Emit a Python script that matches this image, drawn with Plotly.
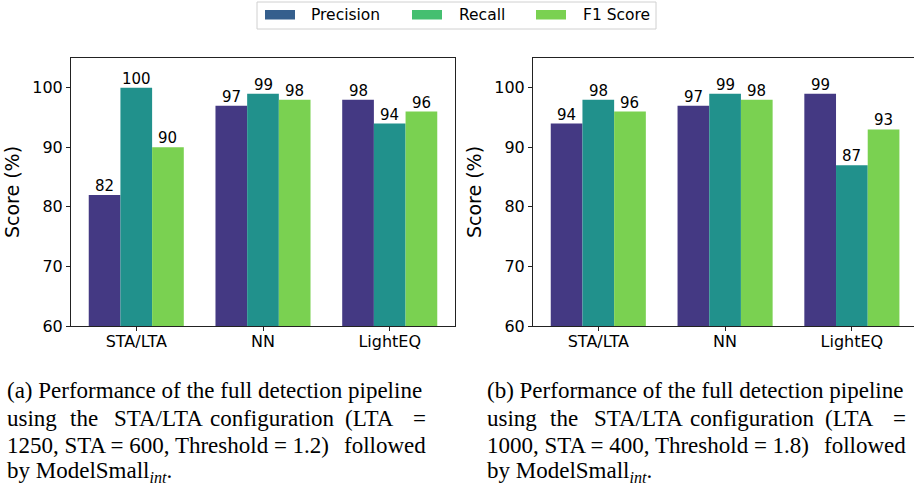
import plotly.graph_objects as go

categories = ["STA/LTA", "NN", "LightEQ"]
series_names = ["Precision", "Recall", "F1 Score"]
panel_a = {"Precision": [82, 97, 98], "Recall": [100, 99, 94], "F1 Score": [90, 98, 96]}
panel_b = {"Precision": [94, 97, 99], "Recall": [98, 99, 87], "F1 Score": [96, 98, 93]}
y_ticks = [60, 70, 80, 90, 100]

bar_colors = {"Precision": "#443983", "Recall": "#21918c", "F1 Score": "#7ad151"}
legend_colors = {"Precision": "#355f8d", "Recall": "#44bf70", "F1 Score": "#7ad151"}

W, H = 914, 494
FONT = "DejaVu Sans"
SERIF = "Liberation Serif"
BAR_W = 0.25
offsets = {"Precision": -BAR_W, "Recall": 0.0, "F1 Score": BAR_W}

fig = go.Figure()
annotations = []
for panel, (xa, ya) in [(panel_a, ("x", "y")), (panel_b, ("x2", "y2"))]:
    for name in series_names:
        xs = [i + offsets[name] for i in range(len(categories))]
        fig.add_trace(go.Bar(
            x=xs, y=panel[name], name=name, xaxis=xa, yaxis=ya, width=BAR_W,
            marker=dict(color=bar_colors[name], line=dict(width=0)),
            showlegend=False,
        ))
        for xv, v in zip(xs, panel[name]):
            annotations.append(dict(text=str(v), x=xv, y=v, xref=xa, yref=ya,
                                    xanchor="center", yanchor="bottom", yshift=-2,
                                    showarrow=False,
                                    font=dict(family=FONT, size=15, color="black")))

def px_x(p):
    return p / W

def px_y(p):
    return 1 - p / H

axis_common = dict(showline=True, linecolor="#222", linewidth=1, ticks="outside",
                   ticklen=4, tickcolor="#222", showgrid=False, zeroline=False,
                   automargin=False,
                   tickfont=dict(family=FONT, size=16, color="black"))
ydom = [px_y(326), px_y(58)]
ytitle = dict(text="Score (%)", font=dict(family=FONT, size=19, color="black"), standoff=7)
fig.update_layout(
    width=W, height=H, margin=dict(l=0, r=0, t=0, b=0, autoexpand=False),
    paper_bgcolor="white", plot_bgcolor="white",
    barmode="overlay",
    showlegend=False,
    xaxis=dict(domain=[px_x(71), px_x(455)], range=[-0.515, 2.515], mirror=True,
               tickvals=list(range(len(categories))), ticktext=categories,
               ticklabelstandoff=-3, anchor="y", **axis_common),
    yaxis=dict(domain=ydom, range=[60, 105], tickvals=y_ticks, mirror=True, anchor="x",
               title=ytitle, **axis_common),
    xaxis2=dict(domain=[px_x(533), 1.0], range=[-0.515, 2.49], mirror=True,
                tickvals=list(range(len(categories))), ticktext=categories,
                ticklabelstandoff=-3, anchor="y2", **axis_common),
    yaxis2=dict(domain=ydom, range=[60, 105], tickvals=y_ticks, mirror=False, anchor="x2",
                title=ytitle, **axis_common),
)

# Legend drawn manually (swatch colours differ from bars in the original)
shapes = [dict(type="rect", xref="paper", yref="paper",
               x0=px_x(257), x1=px_x(656), y0=px_y(29), y1=px_y(2),
               line=dict(color="#d0d0d0", width=1), fillcolor="white")]
sw_x = [265, 412, 536]
tx_x = [309, 457, 581]
for name, sx, tx in zip(series_names, sw_x, tx_x):
    shapes.append(dict(type="rect", xref="paper", yref="paper",
                       x0=px_x(sx), x1=px_x(sx + 30), y0=px_y(19.5), y1=px_y(10),
                       line=dict(width=0), fillcolor=legend_colors[name]))
    annotations.append(dict(text=name, xref="paper", yref="paper", x=px_x(tx), y=px_y(15),
                            xanchor="left", yanchor="middle", showarrow=False,
                            font=dict(family=FONT, size=15.5, color="black")))

# Captions (justified: line 2 placed word by word, others as whole runs)
cap_font = dict(family=SERIF, size=23, color="black")
line_y = [390, 418, 445, 472]

def cap(text, x, y, anchor="left"):
    annotations.append(dict(text=text, xref="paper", yref="paper", x=px_x(x), y=px_y(y),
                            xanchor=anchor, yanchor="middle", showarrow=False, font=cap_font))

line2_x = [5, 68, 112, 208, 343]
for label, lta, sta, thr, dx in [("a", "1250", "600", "1.2", 0), ("b", "1000", "400", "1.8", 480)]:
    cap(f"({label}) Performance of the full detection pipeline", 5 + dx, line_y[0])
    for w, wx in zip(["using", "the", "STA/LTA", "configuration", "(LTA"], line2_x):
        cap(w, wx + dx, line_y[1])
    cap("=", 428 + dx, line_y[1], "right")
    cap(f"{lta}, STA = {sta}, Threshold = {thr})", 5 + dx, line_y[2])
    cap("followed", 428 + dx, line_y[2], "right")
    cap("by ModelSmall<sub><i>int</i></sub>.", 5 + dx, line_y[3])

fig.update_layout(shapes=shapes, annotations=annotations)
fig.write_html("out.html")
